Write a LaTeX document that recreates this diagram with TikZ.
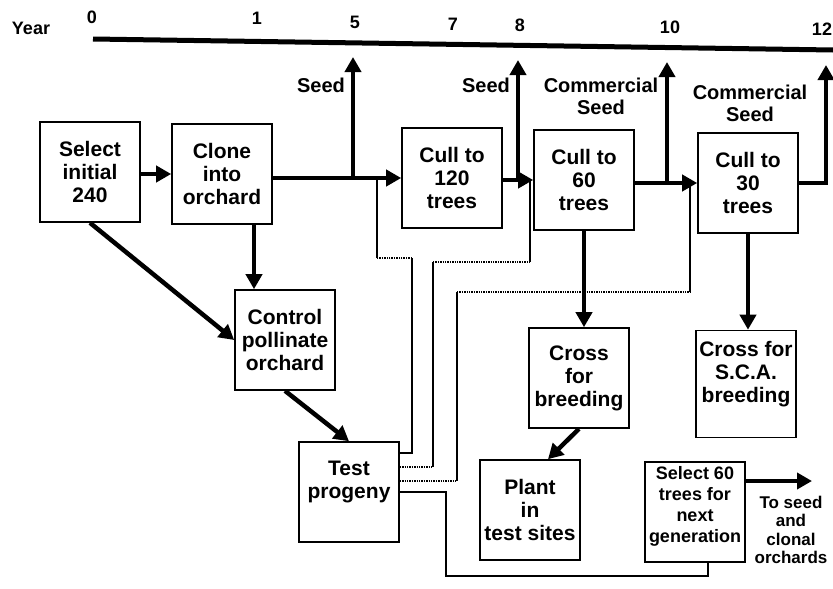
\documentclass[tikz,border=0pt]{standalone}
\usepackage{fontspec}
\setmainfont{Liberation Sans}
\usetikzlibrary{arrows.meta,positioning,calc}
\tikzset{
  stage/.style={rectangle, draw=black, line width=1.6pt, align=center, inner sep=1pt,
                font=\bfseries\fontsize{21}{23}\selectfont, minimum width=100pt, minimum height=100pt},
  flow/.style={-{Triangle[length=15pt,width=16pt]}, line width=4.5pt},
  feed/.style={line width=1.3pt},
  feeddot/.style={line width=1.4pt, densely dotted},
  lbl/.style={font=\bfseries\fontsize{20}{22}\selectfont, align=center, inner sep=0pt},
  yr/.style={font=\bfseries\fontsize{18}{20}\selectfont, inner sep=0pt},
}
\begin{document}
\begin{tikzpicture}[x=1pt, y=-1pt]
  \useasboundingbox (0,0) rectangle (833,589);
  \coordinate (t0) at (93,39);
  \coordinate (tend) at (833,50);
  \draw[line width=5pt] (t0) -- (tend);
  \node[yr] (year) at (31,28) {Year};
  \node[yr] (y0) at (92,17) {0};
  \node[yr] (y1) at (257,18) {1};
  \node[yr] (y5) at (355,22) {5};
  \node[yr] (y7) at (453,24) {7};
  \node[yr] (y8) at (520,25) {8};
  \node[yr] (y10) at (670,27) {10};
  \node[yr] (y12) at (822,29) {12};

  \node[stage] (sel) at (90,172) {Select\\initial\\240};
  \node[stage] (clone) at (222,174) {Clone\\into\\orchard};
  \node[stage] (cull1) at (452,178) {Cull to\\120\\trees};
  \node[stage] (cull2) at (584,180) {Cull to\\60\\trees};
  \node[stage] (cull3) at (748,183) {Cull to\\30\\trees};
  \node[stage] (ctrl) at (285,340) {Control\\pollinate\\orchard};
  \node[stage, text depth=25pt] (test) at (349,492) {Test\\progeny};
  \node[stage] (cross1) at (579,378) {Cross\\for\\breeding};
  \node[stage, minimum height=107pt, text depth=25pt] (cross2) at (746,384) {Cross for\\S.C.A.\\breeding};
  \node[stage] (plant) at (530,510) {Plant\\in\\test sites};
  \node[stage, font=\bfseries\fontsize{18}{21}\selectfont, text depth=16pt] (sel60) at (695,512) {Select 60\\trees for\\next\\generation};

  \node[lbl] (seed1) at (321,85) {Seed};
  \node[lbl] (seed2) at (486,85) {Seed};
  \node[lbl] (cseed1) at (601,96) {Commercial\\Seed};
  \node[lbl] (cseed2) at (750,103) {Commercial\\Seed};
  \node[lbl, font=\bfseries\fontsize{17}{18.5}\selectfont] (toseed) at (791,530) {To seed\\and\\clonal\\orchards};

  \coordinate (sd1) at (353,178);
  \coordinate (sd1top) at (353,57);
  \coordinate (sd2) at (518,180);
  \coordinate (sd2top) at (518,60);
  \coordinate (sd3) at (667,183);
  \coordinate (sd3top) at (667,62);
  \coordinate (sd4) at (826,183);
  \coordinate (sd4top) at (826,65);
  \coordinate (cl2) at ($(clone.south)+(32,0)$);
  \coordinate (pl2) at ($(plant.north)+(18,0)$);
  \coordinate (outarr) at (812,481);

  \draw[flow] (sel.east |- clone) -- (clone.west);
  \draw[flow] (clone.east |- cull1) -- (cull1.west);
  \draw[flow] (cull1.east |- cull2) -- (cull2.west);
  \draw[flow] (cull2.east |- cull3) -- (cull3.west);
  \draw[flow] (sd1) -- (sd1top);
  \draw[flow] (sd2) -- (sd2top);
  \draw[flow] (sd3) -- (sd3top);
  \draw[flow] (cull3.east) -- (sd4) -- (sd4top);
  \draw[flow] (sel.south) -- (ctrl.west);
  \draw[flow] (cl2) -- (cl2 |- ctrl.north);
  \draw[flow] (ctrl.south) -- (test.north);
  \draw[flow] (cull2.south) -- (cull2.south |- cross1.north);
  \draw[flow] (cull3.south) -- (cull3.south |- cross2.north);
  \draw[flow] (cross1.south) -- (pl2);
  \draw[flow] (sel60.north east |- outarr) -- (outarr);

  % returns from the progeny test
  \coordinate (r1a) at (412,453);
  \coordinate (r1b) at (412,258);
  \coordinate (r1c) at (377,258);
  \coordinate (r1d) at (377,178);
  \draw[feed] (test.east |- r1a) -- (r1a) -- (r1b);
  \draw[feeddot] (r1b) -- (r1c);
  \draw[feed] (r1c) -- (r1d);

  \coordinate (r2a) at (433,467);
  \coordinate (r2b) at (433,262);
  \coordinate (r2c) at (530,262);
  \coordinate (r2d) at (530,180);
  \draw[feeddot] (test.east |- r2a) -- (r2a);
  \draw[feed] (r2a) -- (r2b);
  \draw[feeddot] (r2b) -- (r2c);
  \draw[feed] (r2c) -- (r2d);

  \coordinate (r3a) at (457,481);
  \coordinate (r3b) at (457,292);
  \coordinate (r3c) at (690,292);
  \coordinate (r3d) at (690,183);
  \draw[feeddot] (test.east |- r3a) -- (r3a);
  \draw[feed] (r3a) -- (r3b);
  \draw[feeddot] (r3b) -- (r3c);
  \draw[feed] (r3c) -- (r3d);

  \coordinate (r4a) at (446,492);
  \coordinate (r4b) at (446,576);
  \coordinate (r4c) at (708,576);
  \draw[feed] (test.east |- r4a) -- (r4a) -- (r4b) -- (r4c) -- (r4c |- sel60.south);
\end{tikzpicture}
\end{document}
